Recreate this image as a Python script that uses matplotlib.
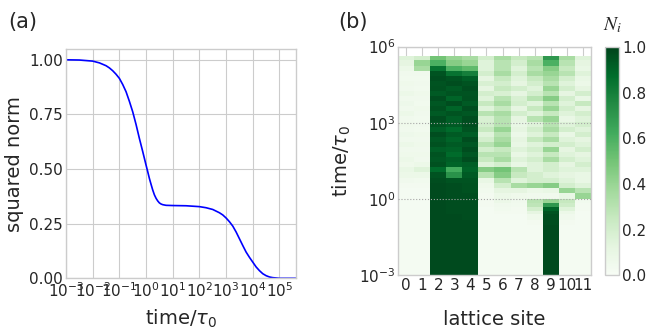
import numpy as np
import matplotlib
matplotlib.use("Agg")
import matplotlib.pyplot as plt

plt.style.use("seaborn-v0_8-whitegrid")
plt.rcParams["font.family"] = ["DejaVu Sans"]

# (a) squared norm (x given as log10 of time/tau0)
log_t = [-3, -2.5, -2, -1.75, -1.5, -1.375, -1.25, -1.125, -1, -0.875, -0.75, -0.625,
         -0.5, -0.375, -0.25, -0.125, 0, 0.0625, 0.125, 0.1875, 0.25, 0.3125, 0.375,
         0.4375, 0.5, 0.5625, 0.625, 0.75, 1, 1.5, 2, 2.25, 2.5, 2.75, 2.875, 3,
         3.125, 3.25, 3.375, 3.5, 3.625, 3.75, 3.875, 4, 4.125, 4.25, 4.375, 4.5,
         4.625, 4.75, 5, 5.62]
norm = [1.0, 0.999, 0.994, 0.986, 0.973, 0.963, 0.95, 0.934, 0.915, 0.887, 0.854, 0.81,
        0.762, 0.704, 0.64, 0.58, 0.518, 0.488, 0.457, 0.43, 0.404, 0.382, 0.366,
        0.354, 0.345, 0.34, 0.337, 0.334, 0.333, 0.332, 0.328, 0.323, 0.315, 0.3,
        0.29, 0.276, 0.259, 0.239, 0.212, 0.181, 0.15, 0.12, 0.096, 0.074, 0.052,
        0.035, 0.021, 0.012, 0.006, 0.003, 0.0, 0.0]

# (b) occupation N_i per site, rows between log10(time) edges (top -> bottom)
sites = list(range(12))
row_edges = [5.64, 5.45, 5.25, 5.05, 4.85, 4.65, 4.45, 4.25, 4.05, 3.85, 3.65, 3.45,
             3.25, 3.05, 2.85, 2.65, 2.45, 2.25, 2.05, 1.85, 1.65, 1.45, 1.25, 1.05,
             0.85, 0.65, 0.45, 0.25, 0.0, -0.15, -0.3, -0.45, -0.6, -0.8, -1.0, -3.0]
N_rows = [
    [0.15, 0.2, 0.5, 0.4, 0.35, 0.2, 0.35, 0.25, 0.3, 0.7, 0.35, 0.15],
    [0.12, 0.4, 0.6, 0.45, 0.4, 0.15, 0.3, 0.2, 0.35, 0.6, 0.3, 0.12],
    [0.08, 0.35, 0.85, 0.6, 0.55, 0.15, 0.3, 0.15, 0.3, 0.45, 0.25, 0.1],
    [0.05, 0.05, 0.95, 0.85, 0.8, 0.2, 0.35, 0.2, 0.35, 0.4, 0.3, 0.15],
    [0.04, 0.04, 0.97, 0.95, 0.92, 0.12, 0.25, 0.15, 0.25, 0.35, 0.2, 0.1],
    [0.06, 0.05, 0.95, 0.97, 0.95, 0.18, 0.2, 0.12, 0.2, 0.3, 0.15, 0.08],
    [0.05, 0.04, 0.96, 0.93, 0.97, 0.12, 0.25, 0.2, 0.15, 0.4, 0.2, 0.12],
    [0.08, 0.06, 0.93, 0.95, 0.95, 0.2, 0.18, 0.12, 0.2, 0.3, 0.12, 0.2],
    [0.05, 0.05, 0.97, 0.9, 0.96, 0.15, 0.3, 0.18, 0.3, 0.45, 0.2, 0.1],
    [0.07, 0.04, 0.94, 0.97, 0.93, 0.25, 0.35, 0.2, 0.15, 0.3, 0.15, 0.25],
    [0.05, 0.06, 0.96, 0.9, 0.97, 0.15, 0.25, 0.12, 0.25, 0.4, 0.2, 0.12],
    [0.08, 0.05, 0.93, 0.95, 0.94, 0.3, 0.35, 0.2, 0.15, 0.25, 0.15, 0.2],
    [0.05, 0.04, 0.97, 0.92, 0.97, 0.18, 0.3, 0.12, 0.3, 0.4, 0.1, 0.15],
    [0.06, 0.05, 0.95, 0.93, 0.97, 0.2, 0.3, 0.1, 0.15, 0.3, 0.15, 0.2],
    [0.05, 0.04, 0.92, 0.88, 0.95, 0.25, 0.4, 0.12, 0.2, 0.35, 0.2, 0.15],
    [0.07, 0.06, 0.97, 0.93, 0.92, 0.15, 0.3, 0.08, 0.15, 0.25, 0.1, 0.2],
    [0.05, 0.05, 0.94, 0.9, 0.97, 0.2, 0.35, 0.12, 0.25, 0.35, 0.15, 0.12],
    [0.08, 0.06, 0.96, 0.93, 0.94, 0.3, 0.4, 0.1, 0.15, 0.2, 0.2, 0.15],
    [0.05, 0.05, 0.92, 0.91, 0.97, 0.2, 0.25, 0.15, 0.2, 0.4, 0.12, 0.2],
    [0.06, 0.06, 0.95, 0.88, 0.94, 0.3, 0.3, 0.1, 0.15, 0.25, 0.15, 0.12],
    [0.08, 0.05, 0.94, 0.92, 0.97, 0.25, 0.35, 0.15, 0.2, 0.35, 0.2, 0.15],
    [0.06, 0.08, 0.96, 0.9, 0.92, 0.15, 0.2, 0.1, 0.15, 0.2, 0.12, 0.2],
    [0.1, 0.15, 0.88, 0.62, 0.9, 0.45, 0.5, 0.3, 0.15, 0.2, 0.15, 0.15],
    [0.08, 0.08, 0.95, 0.72, 0.93, 0.3, 0.45, 0.25, 0.2, 0.15, 0.12, 0.1],
    [0.05, 0.04, 0.97, 0.95, 0.95, 0.1, 0.3, 0.15, 0.2, 0.2, 0.15, 0.1],
    [0.03, 0.03, 0.98, 0.97, 0.96, 0.06, 0.2, 0.35, 0.4, 0.45, 0.2, 0.15],
    [0.02, 0.02, 0.98, 0.97, 0.96, 0.04, 0.12, 0.12, 0.08, 0.1, 0.4, 0.3],
    [0.02, 0.02, 0.98, 0.97, 0.97, 0.03, 0.08, 0.06, 0.05, 0.05, 0.1, 0.4],
    [0.02, 0.02, 0.98, 0.97, 0.97, 0.03, 0.08, 0.05, 0.3, 0.4, 0.25, 0.04],
    [0.02, 0.02, 0.98, 0.97, 0.97, 0.03, 0.05, 0.04, 0.28, 0.7, 0.22, 0.03],
    [0.02, 0.02, 0.98, 0.97, 0.97, 0.02, 0.04, 0.03, 0.2, 0.9, 0.15, 0.03],
    [0.02, 0.02, 0.98, 0.97, 0.97, 0.02, 0.03, 0.03, 0.12, 0.95, 0.08, 0.02],
    [0.02, 0.02, 0.98, 0.98, 0.97, 0.02, 0.02, 0.02, 0.06, 0.97, 0.05, 0.02],
    [0.02, 0.02, 0.98, 0.98, 0.98, 0.02, 0.02, 0.02, 0.03, 0.97, 0.03, 0.02],
    [0.02, 0.02, 0.98, 0.98, 0.98, 0.02, 0.02, 0.02, 0.02, 0.98, 0.02, 0.02],
]

fig = plt.figure(figsize=(6.53, 3.31), dpi=100)

# ---- (a)
ax1 = fig.add_axes([0.1011, 0.1592, 0.3522, 0.6918])
ax1.plot(10.0 ** np.array(log_t), norm, color="blue", lw=1.2)
ax1.set_xscale("log")
ax1.set_xlim(1e-3, 10 ** 5.62)
ax1.set_ylim(0, 1.048)
ax1.set_xticks([10.0 ** k for k in range(-3, 6)])
ax1.xaxis.set_minor_locator(matplotlib.ticker.NullLocator())
ax1.set_yticks([0, 0.25, 0.5, 0.75, 1.0])
ax1.tick_params(labelsize=11, pad=2)
ax1.set_xlabel(r"time/$\tau_0$", fontsize=14, labelpad=6)
ax1.set_ylabel("squared norm", fontsize=14)
fig.text(8 / 653, 1 - 22 / 331, "(a)", fontsize=15, va="center")

# ---- (b)
ax2 = fig.add_axes([0.6095, 0.1677, 0.2955, 0.6918])
x_edges = np.arange(len(sites) + 1) - 0.5
y_edges = 10.0 ** np.array(row_edges[::-1])
mesh = ax2.pcolormesh(x_edges, y_edges, np.array(N_rows[::-1]), cmap="Greens",
                      vmin=0, vmax=1)
ax2.set_yscale("log")
ax2.set_ylim(1e-3, 1e6)
ax2.set_xlim(-0.5, 11.5)
ax2.set_yticks([1e-3, 1, 1e3, 1e6])
ax2.yaxis.set_minor_locator(matplotlib.ticker.NullLocator())
ax2.set_xticks(sites)
ax2.tick_params(labelsize=11, pad=2)
for yv in [1, 1e3]:
    ax2.axhline(yv, color="0.65", ls=":", lw=0.8, zorder=3)
ax2.set_xlabel("lattice site", fontsize=14, labelpad=12)
ax2.set_ylabel(r"time/$\tau_0$", fontsize=14)
fig.text(338 / 653, 1 - 22 / 331, "(b)", fontsize=15, va="center")

cax = fig.add_axes([0.9265, 0.169, 0.0215, 0.688])
cb = fig.colorbar(mesh, cax=cax, ticks=[0, 0.2, 0.4, 0.6, 0.8, 1.0])
cb.outline.set_edgecolor("0.8")
cax.tick_params(labelsize=11, length=0, pad=2)
cax.set_title("$N_i$", fontsize=14, math_fontfamily="stix", pad=12)

fig.savefig("out.png", dpi=100)
